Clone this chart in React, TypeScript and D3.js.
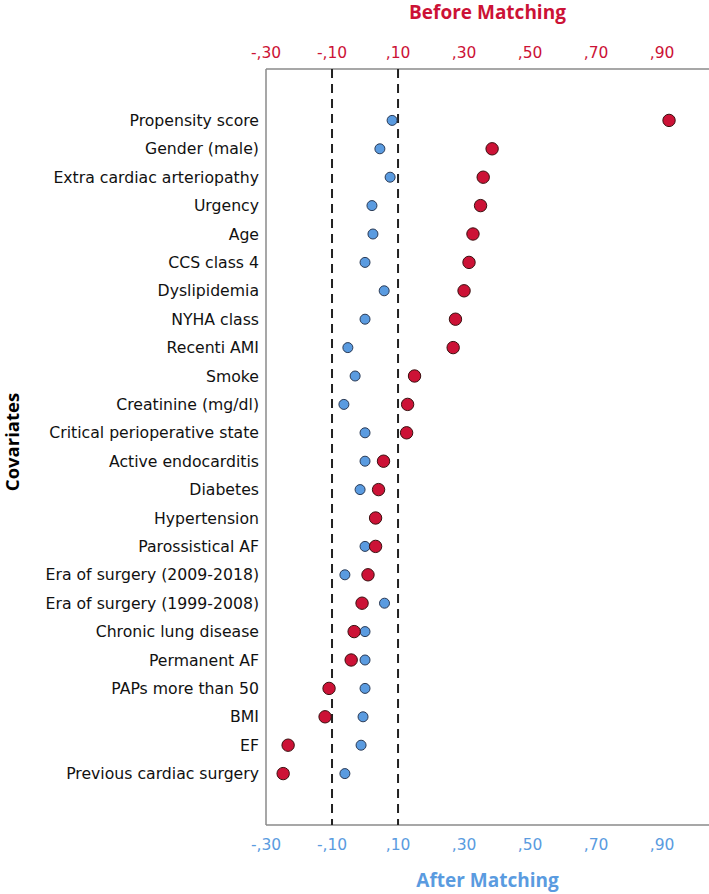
import { useEffect, useRef } from "react"
import * as d3 from "d3"

const covariates = [
  "Propensity score",
  "Gender (male)",
  "Extra cardiac arteriopathy",
  "Urgency",
  "Age",
  "CCS class 4",
  "Dyslipidemia",
  "NYHA class",
  "Recenti AMI",
  "Smoke",
  "Creatinine (mg/dl)",
  "Critical perioperative state",
  "Active endocarditis",
  "Diabetes",
  "Hypertension",
  "Parossistical AF",
  "Era of surgery (2009-2018)",
  "Era of surgery (1999-2008)",
  "Chronic lung disease",
  "Permanent AF",
  "PAPs more than 50",
  "BMI",
  "EF",
  "Previous cardiac surgery",
]

// standardized differences before matching (red, top axis)
const beforeValues = [
  0.921, 0.385, 0.358, 0.35, 0.327, 0.315, 0.3, 0.274, 0.267, 0.15, 0.129, 0.126,
  0.056, 0.041, 0.032, 0.032, 0.009, -0.009, -0.033, -0.042, -0.109, -0.121, -0.233, -0.248,
]

// standardized differences after matching (blue, bottom axis)
const afterValues = [
  0.082, 0.045, 0.076, 0.021, 0.024, 0.0, 0.058, 0.0, -0.052, -0.03, -0.064, 0.0,
  0.0, -0.015, 0.032, 0.0, -0.061, 0.059, 0.0, 0.0, 0.0, -0.006, -0.012, -0.061,
]

const tickValues = [-0.3, -0.1, 0.1, 0.3, 0.5, 0.7, 0.9]
const thresholds = [-0.1, 0.1]

const RED = "#cc1236"
const BLUE = "#5a9be0"

const fmt = (v: number) => {
  const s = d3.format(".2f")(Math.abs(v)).replace(/^0\./, ",")
  return v < 0 ? "-" + s : s
}

export default function App() {
  const svgRef = useRef<SVGSVGElement>(null)

  useEffect(() => {
    if (!svgRef.current) return
    const width = 709
    const height = 894
    const margin = { top: 69, right: 2, bottom: 69, left: 266 }

    const svg = d3.select(svgRef.current)
    svg.selectAll("*").remove()

    const x = d3
      .scaleLinear()
      .domain([-0.3, 1.036])
      .range([margin.left, width - margin.right])

    const y = d3
      .scalePoint<string>()
      .domain(covariates)
      .range([margin.top, height - margin.bottom])
      .padding(1.81)

    const titleFont = "'Open Sans', 'DejaVu Sans', sans-serif"
    const font = "'DejaVu Sans', 'Open Sans', sans-serif"

    // frame
    const frame = svg.append("g").attr("stroke", "#8a8a8a").attr("stroke-width", 1.5)
    frame
      .append("line")
      .attr("x1", margin.left)
      .attr("x2", width)
      .attr("y1", margin.top)
      .attr("y2", margin.top)
    frame
      .append("line")
      .attr("x1", margin.left)
      .attr("x2", width)
      .attr("y1", height - margin.bottom)
      .attr("y2", height - margin.bottom)
    frame
      .append("line")
      .attr("x1", margin.left)
      .attr("x2", margin.left)
      .attr("y1", margin.top)
      .attr("y2", height - margin.bottom)

    // reference lines
    svg
      .selectAll("line.ref")
      .data(thresholds)
      .enter()
      .append("line")
      .attr("class", "ref")
      .attr("x1", (d) => x(d))
      .attr("x2", (d) => x(d))
      .attr("y1", margin.top)
      .attr("y2", height - margin.bottom)
      .attr("stroke", "#222")
      .attr("stroke-width", 2)
      .attr("stroke-dasharray", "9,6")

    // top ticks
    svg
      .selectAll("text.top")
      .data(tickValues)
      .enter()
      .append("text")
      .attr("class", "top")
      .attr("x", (d) => x(d))
      .attr("y", 58)
      .attr("text-anchor", "middle")
      .attr("fill", RED)
      .attr("font-family", font)
      .attr("font-size", 15.5)
      .text((d) => fmt(d))

    // bottom ticks
    svg
      .selectAll("text.bottom")
      .data(tickValues)
      .enter()
      .append("text")
      .attr("class", "bottom")
      .attr("x", (d) => x(d))
      .attr("y", 850)
      .attr("text-anchor", "middle")
      .attr("fill", BLUE)
      .attr("font-family", font)
      .attr("font-size", 15.5)
      .text((d) => fmt(d))

    // titles
    const cx = (margin.left + width) / 2
    svg
      .append("text")
      .attr("x", cx)
      .attr("y", 19)
      .attr("text-anchor", "middle")
      .attr("fill", RED)
      .attr("font-family", titleFont)
      .attr("font-weight", "bold")
      .attr("font-size", 19)
      .text("Before Matching")
    svg
      .append("text")
      .attr("x", cx)
      .attr("y", 887)
      .attr("text-anchor", "middle")
      .attr("fill", BLUE)
      .attr("font-family", titleFont)
      .attr("font-weight", "bold")
      .attr("font-size", 19)
      .text("After Matching")
    svg
      .append("text")
      .attr("transform", `translate(19,442) rotate(-90)`)
      .attr("text-anchor", "middle")
      .attr("fill", "#000")
      .attr("font-family", titleFont)
      .attr("font-weight", "bold")
      .attr("font-size", 18.5)
      .text("Covariates")

    // category labels
    svg
      .selectAll("text.cat")
      .data(covariates)
      .enter()
      .append("text")
      .attr("class", "cat")
      .attr("x", 259)
      .attr("y", (d) => y(d)!)
      .attr("dy", "0.36em")
      .attr("text-anchor", "end")
      .attr("fill", "#111")
      .attr("font-family", font)
      .attr("font-size", 15.7)
      .text((d) => d)

    // after (blue)
    svg
      .selectAll("circle.after")
      .data(covariates)
      .enter()
      .append("circle")
      .attr("class", "after")
      .attr("cx", (d, i) => x(afterValues[i]))
      .attr("cy", (d) => y(d)!)
      .attr("r", 5)
      .attr("fill", BLUE)
      .attr("stroke", "#2a3a55")
      .attr("stroke-width", 1)

    // before (red)
    svg
      .selectAll("circle.before")
      .data(covariates)
      .enter()
      .append("circle")
      .attr("class", "before")
      .attr("cx", (d, i) => x(beforeValues[i]))
      .attr("cy", (d) => y(d)!)
      .attr("r", 6.2)
      .attr("fill", RED)
      .attr("stroke", "#3a1010")
      .attr("stroke-width", 1)
  }, [])

  return (
    <svg
      ref={svgRef}
      width={709}
      height={894}
      style={{ position: "absolute", left: 0, top: 0, background: "#fff" }}
    />
  )
}
